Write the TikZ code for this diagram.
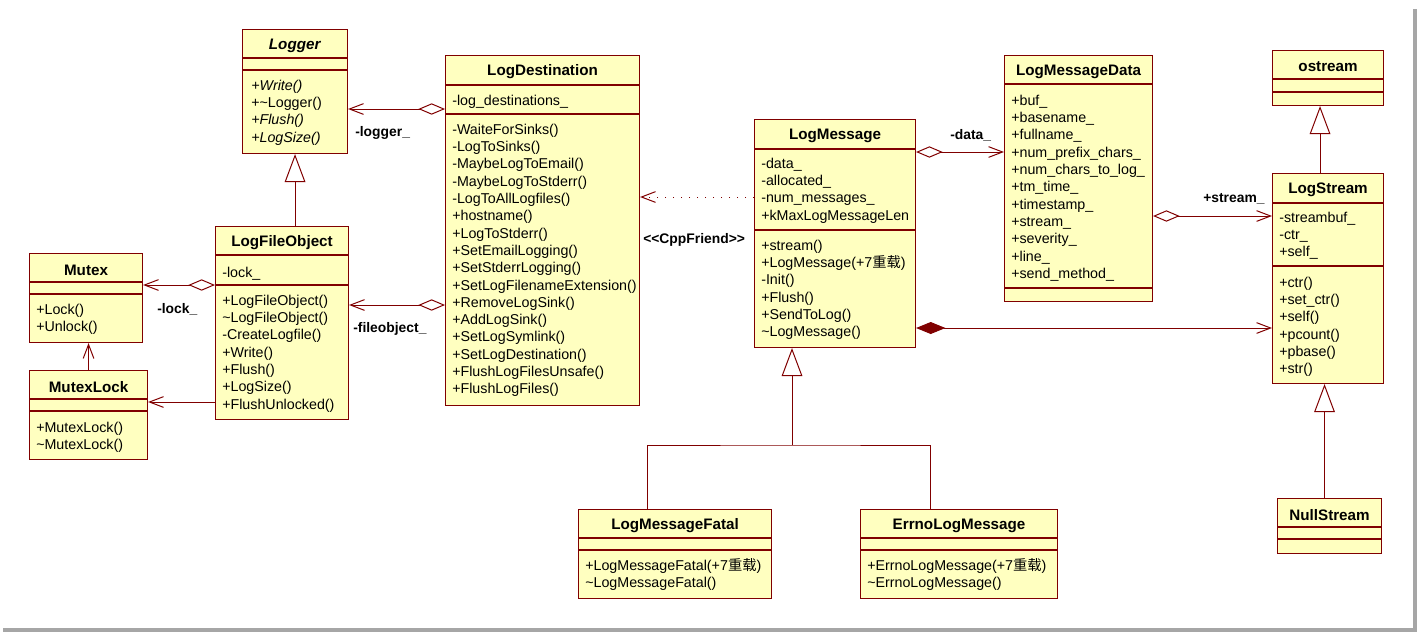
\documentclass[tikz,border=0pt]{standalone}
\usepackage{fontspec}
\setmainfont{Liberation Sans}
\newfontfamily\cjk{Noto Sans CJK SC}
\usepackage{tikz}
\usetikzlibrary{arrows.meta, calc}

\definecolor{umlred}{HTML}{800000}
\definecolor{umlfill}{HTML}{FFFFC0}

\tikzset{
  clsbox/.style={draw=umlred, fill=umlfill, line width=0.8pt, anchor=north west, inner sep=0pt},
  sepline/.style={draw=umlred, line width=0.8pt},
  clstitle/.style={font=\fontsize{11.4}{13}\selectfont\bfseries, inner sep=0pt},
  row/.style={anchor=west, inner sep=0pt, text height=7.5pt, text depth=2.5pt},
  lbl/.style={font=\fontsize{10.4}{13}\selectfont\bfseries, anchor=west, inner sep=0pt},
  link/.style={draw=umlred, line width=0.75pt},
  assoc/.style={link, -{Straight Barb[length=10.5pt, width=8pt]}},
  aggr/.style={link, {Diamond[open, length=20pt, width=8.5pt]}-{Straight Barb[length=10.5pt, width=8pt]}},
  compo/.style={link, {Diamond[length=22pt, width=9pt]}-{Straight Barb[length=10.5pt, width=8pt]}},
  gen/.style={link, -{Triangle[open, length=21pt, width=15.5pt]}},
  depend/.style={link, dash pattern=on 0.8pt off 5.2pt, -{Straight Barb[length=10.5pt, width=8pt]}}
}

% box: name, x, y, width, height, first line, second line, title
\newcommand{\umlclass}[8]{%
  \node[clsbox, minimum width=#4*0.75pt, minimum height=#5*0.75pt] (#1) at (#2,#3) {};
  \draw[sepline] ($(#1.north west)+(0,#6)$) -- ($(#1.north east)+(0,#6)$);
  \draw[sepline] ($(#1.north west)+(0,#7)$) -- ($(#1.north east)+(0,#7)$);
  \node[clstitle] (#1-title) at ($(#1.north)+(0,17)$) {#8};
}
% rows: prefix, x, y of first row, list
\newcommand{\umlrows}[4]{%
  \foreach \t [count=\i from 0] in {#4}
    \node[row] (#1\i) at ({#2+7},{#3+2+17.3*\i}) {\t};
}

\begin{document}
\begin{tikzpicture}[x=0.75pt, y=-0.75pt, font=\fontsize{10.7}{13}\selectfont]
\useasboundingbox (0,0) rectangle (1418,633);

% classes
\umlclass{logger}{242}{29}{105}{124}{29}{41}{\textit{Logger}}
\umlrows{loggerm}{244}{85}{\textit{+Write()}, +\textasciitilde Logger(), \textit{+Flush()}, \textit{+LogSize()}}

\umlclass{logfile}{215}{226}{133}{193}{29}{59}{LogFileObject}
\umlrows{logfilea}{215}{272}{-lock\_}
\umlrows{logfilem}{215}{300}{+LogFileObject(), \textasciitilde LogFileObject(), -CreateLogfile(), +Write(), +Flush(), +LogSize(), +FlushUnlocked()}

\umlclass{mutex}{29}{253}{113}{89}{29}{41}{Mutex}
\umlrows{mutexm}{29}{309}{+Lock(), +Unlock()}

\umlclass{mutexlock}{29}{370}{118}{89}{29}{41}{MutexLock}
\umlrows{mutexlockm}{29}{427}{+MutexLock(), \textasciitilde MutexLock()}

\umlclass{logdest}{445}{55}{194}{350}{30}{59}{LogDestination}
\umlrows{logdesta}{445}{100}{-log\_destinations\_}
\umlrows{logdestm}{445}{129}{-WaiteForSinks(), -LogToSinks(), -MaybeLogToEmail(), -MaybeLogToStderr(), -LogToAllLogfiles(), +hostname(), +LogToStderr(), +SetEmailLogging(), +SetStderrLogging(), +SetLogFilenameExtension(), +RemoveLogSink(), +AddLogSink(), +SetLogSymlink(), +SetLogDestination(), +FlushLogFilesUnsafe(), +FlushLogFiles()}

\umlclass{logmsg}{754}{119}{161}{228}{30}{111}{LogMessage}
\umlrows{logmsga}{754}{163}{-data\_, -allocated\_, -num\_messages\_, +kMaxLogMessageLen}
\umlrows{logmsgm}{754}{245}{+stream(), +LogMessage(+7{\cjk 重载}), -Init(), +Flush(), +SendToLog(), \textasciitilde LogMessage()}

\umlclass{logdata}{1004}{55}{148}{246}{29}{233}{LogMessageData}
\umlrows{logdataa}{1004}{100}{+buf\_, +basename\_, +fullname\_, +num\_prefix\_chars\_, +num\_chars\_to\_log\_, +tm\_time\_, +timestamp\_, +stream\_, +severity\_, +line\_, +send\_method\_}

\umlclass{ostream}{1272}{50}{111}{55}{29}{42}{ostream}

\umlclass{logstream}{1272}{173}{111}{210}{30}{93}{LogStream}
\umlrows{logstreama}{1272}{217}{-streambuf\_, -ctr\_, +self\_}
\umlrows{logstreamm}{1272}{282}{+ctr(), +set\_ctr(), +self(), +pcount(), +pbase(), +str()}

\umlclass{nullstream}{1277}{498}{104}{55}{29}{41}{NullStream}

\umlclass{fatal}{578}{509}{193}{89}{29}{41}{LogMessageFatal}
\umlrows{fatalm}{578}{565}{+LogMessageFatal(+7{\cjk 重载}), \textasciitilde LogMessageFatal()}

\umlclass{errno}{860}{509}{197}{89}{29}{41}{ErrnoLogMessage}
\umlrows{errnom}{860}{565}{+ErrnoLogMessage(+7{\cjk 重载}), \textasciitilde ErrnoLogMessage()}

% associations
\coordinate (toLogger) at ($(logdest.north west)+(0,54)$);
\draw[aggr] (toLogger) -- (toLogger -| logger.east);
\node[lbl] (loggerlbl) at (355,133) {-logger\_};

\coordinate (toFile) at ($(logdest.north west)+(0,250)$);
\draw[aggr] (toFile) -- (toFile -| logfile.east);
\node[lbl] (filelbl) at (353,329) {-fileobject\_};

\coordinate (toMutex) at ($(logfile.north west)+(0,59)$);
\draw[aggr] (toMutex) -- (toMutex -| mutex.east);
\node[lbl] (mutexlbl) at (157,309) {-lock\_};

\coordinate (toLock) at ($(logfile.north west)+(0,176)$);
\draw[assoc] (toLock) -- (toLock -| mutexlock.east);
\draw[assoc] (mutexlock.north) -- (mutexlock.north |- mutex.south);

\coordinate (toDest) at ($(logmsg.north west)+(0,78)$);
\draw[depend] (toDest) -- (toDest -| logdest.east);
\node[lbl] (friendlbl) at (643,240) {\textless\kern0pt\textless CppFriend\textgreater\kern0pt\textgreater};

\coordinate (toData) at ($(logmsg.north east)+(0,33)$);
\draw[aggr] (toData) -- (toData -| logdata.west);
\node[lbl] (datalbl) at (950,135) {-data\_};

\coordinate (toStream) at ($(logdata.north east)+(0,161)$);
\draw[aggr] (toStream) -- (toStream -| logstream.west);
\node[lbl] (streamlbl) at (1203,199) {+stream\_};

\coordinate (ownStream) at ($(logmsg.north east)+(0,209)$);
\draw[compo] (ownStream) -- (ownStream -| logstream.west);

% generalizations
\draw[gen] (logger.south |- logfile.north) -- (logger.south);
\draw[gen] ($(logstream.north)+(-8,0)$) -- ($(ostream.south)+(-8,0)$);
\draw[gen] ($(nullstream.north)+(-5,0)$) -- ($(logstream.south)+(-3.5,0)$);

\coordinate (fork) at (792,445);
\draw[link] ($(fatal.north)+(-27.5,0)$) |- (fork) -| ($(errno.north)+(-28.5,0)$);
\draw[gen] (fork) -- (fork |- logmsg.south);

% frame shadow
\draw[gray!70, line width=2.4pt] (3,630) -- (1415,630) -- (1415,9);
\end{tikzpicture}
\end{document}
